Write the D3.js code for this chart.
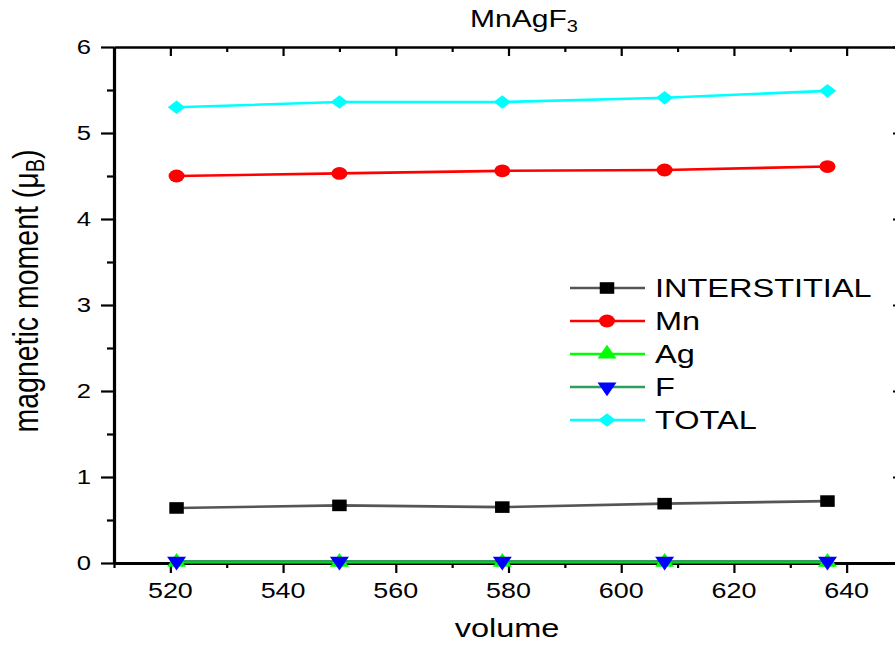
<!DOCTYPE html>
<html>
<head>
<meta charset="utf-8">
<script src="https://cdn.jsdelivr.net/npm/d3@7"></script>
<style>
  body { margin: 0; background: #fff; }
  text { font-family: "Liberation Sans", Arial, sans-serif; fill: #000; }
</style>
</head>
<body>
<div id="chart"></div>
<script>
// values
const volume = [521.1, 550.0, 578.9, 607.7, 636.6]
const interstitial = [0.64, 0.67, 0.65, 0.69, 0.72]
const mn = [4.50, 4.53, 4.56, 4.57, 4.61]
const ag = [0.01, 0.01, 0.01, 0.01, 0.01]
const f = [0.02, 0.02, 0.02, 0.02, 0.02]
const total = [5.30, 5.36, 5.36, 5.41, 5.49]
const seriesNames = ["INTERSTITIAL", "Mn", "Ag", "F", "TOTAL"]
const xTicks = [520, 540, 560, 580, 600, 620, 640]
const xMinor = [510, 530, 550, 570, 590, 610, 630, 650]
const yTicks = [0, 1, 2, 3, 4, 5, 6]
const yMinor = [0.5, 1.5, 2.5, 3.5, 4.5, 5.5]

const width = 895, height = 645
const S = 1.25   // the picture is stretched sideways
const plotL = 114, plotR = 903, plotT = 47, plotB = 563

const svg = d3.select("#chart").append("svg")
    .attr("width", width)
    .attr("height", height)

const x = d3.scaleLinear().domain([510, 650]).range([plotL, plotR])
const y = d3.scaleLinear().domain([0, 6]).range([plotB, plotT])

const shapes = {
    square: "M-5.8,-5.8h11.6v11.6h-11.6Z",
    circle: "M-6.4,0a6.4,6.4 0 1,0 12.8,0a6.4,6.4 0 1,0 -12.8,0Z",
    up: "M0,-9.2L7.6,4.6L-7.6,4.6Z",
    down: "M0,9.2L7.6,-4.6L-7.6,-4.6Z",
    diamond: "M0,-6.8L7,0L0,6.8L-7,0Z"
}

const series = [
    { name: seriesNames[0], values: interstitial, line: "#555555", fill: "#000000", shape: "square" },
    { name: seriesNames[1], values: mn, line: "#ff0000", fill: "#ff0000", shape: "circle" },
    { name: seriesNames[2], values: ag, line: "#00ff00", fill: "#00ff00", shape: "up" },
    { name: seriesNames[3], values: f, line: "#2e9e5c", fill: "#0000ff", shape: "down" },
    { name: seriesNames[4], values: total, line: "#00ffff", fill: "#00ffff", shape: "diamond" }
]

function stretchText(g, px, py, str, size, anchor) {
    return g.append("text")
        .attr("transform", `translate(${px},${py}) scale(${S},1)`)
        .attr("font-size", size)
        .attr("text-anchor", anchor || "start")
        .text(str)
}

// axes
function styleAxis(g, sw) {
    g.select(".domain").attr("stroke", "#000").attr("stroke-width", sw)
    g.selectAll(".tick line").attr("stroke", "#000").attr("stroke-width", 2.2)
    g.selectAll("text").remove()
}
function minorTicks(g) {
    g.select(".domain").remove()
    g.selectAll("line").attr("stroke", "#000").attr("stroke-width", 2.2)
}

const gLeft = svg.append("g").attr("transform", `translate(${plotL},0)`)
    .call(d3.axisLeft(y).tickValues(yTicks).tickSize(13).tickSizeOuter(0))
styleAxis(gLeft, 3.2)
gLeft.append("g").call(d3.axisLeft(y).tickValues(yMinor).tickSize(7).tickFormat("")).call(minorTicks)

const gBottom = svg.append("g").attr("transform", `translate(0,${plotB})`)
    .call(d3.axisBottom(x).tickValues(xTicks).tickSize(10).tickSizeOuter(0))
styleAxis(gBottom, 2.8)
gBottom.append("g").call(d3.axisBottom(x).tickValues(xMinor).tickSize(5).tickFormat("")).call(minorTicks)

const gTop = svg.append("g").attr("transform", `translate(0,${plotT})`)
    .call(d3.axisTop(x).tickValues(xTicks).tickSize(-9).tickSizeOuter(0))
styleAxis(gTop, 2.6)
gTop.append("g").call(d3.axisTop(x).tickValues(xMinor).tickSize(-5).tickFormat("")).call(minorTicks)

const gRight = svg.append("g").attr("transform", `translate(${plotR},0)`)
    .call(d3.axisRight(y).tickValues(yTicks).tickSize(-10).tickSizeOuter(0))
styleAxis(gRight, 3)

// tick labels
yTicks.forEach(v => stretchText(svg, 91, y(v) + 7, v, 20.5, "end"))
xTicks.forEach(v => stretchText(svg, x(v), plotB + 35, v, 21.5, "middle"))

// data lines and markers
const line = d3.line().x((d, i) => x(volume[i])).y(d => y(d))
series.forEach(s => {
    svg.append("path")
        .datum(s.values)
        .attr("fill", "none")
        .attr("stroke", s.line)
        .attr("stroke-width", 2.6)
        .attr("d", line)
})
series.forEach(s => {
    svg.append("g").selectAll("path")
        .data(s.values)
        .enter().append("path")
        .attr("d", shapes[s.shape])
        .attr("fill", s.fill)
        .attr("transform", (d, i) => `translate(${x(volume[i])},${y(d)}) scale(${S},1)`)
})

// legend
const legend = svg.append("g")
series.forEach((s, i) => {
    const ly = 288 + i * 33
    legend.append("line")
        .attr("x1", 570).attr("x2", 645)
        .attr("y1", ly).attr("y2", ly)
        .attr("stroke", s.line).attr("stroke-width", 2.6)
    legend.append("path")
        .attr("d", shapes[s.shape])
        .attr("fill", s.fill)
        .attr("transform", `translate(607,${ly}) scale(${S},1)`)
    stretchText(legend, 655, ly + 9, s.name, 26)
})

// title
const title = svg.append("text")
    .attr("transform", `translate(524,27) scale(${S},1)`)
    .attr("font-size", 24)
    .attr("text-anchor", "middle")
title.append("tspan").text("MnAgF")
title.append("tspan").attr("font-size", 16).attr("dy", 5).text("3")

// axis titles
stretchText(svg, 507, 637, "volume", 26, "middle")

const yTitle = svg.append("text")
    .attr("transform", `translate(38,291) scale(${S},1) rotate(-90)`)
    .attr("font-size", 28.5)
    .attr("text-anchor", "middle")
yTitle.append("tspan").text("magnetic moment (\u03bc")
yTitle.append("tspan").attr("font-size", 20).attr("dy", 5).text("B")
yTitle.append("tspan").attr("dy", -5).text(")")
</script>
</body>
</html>
